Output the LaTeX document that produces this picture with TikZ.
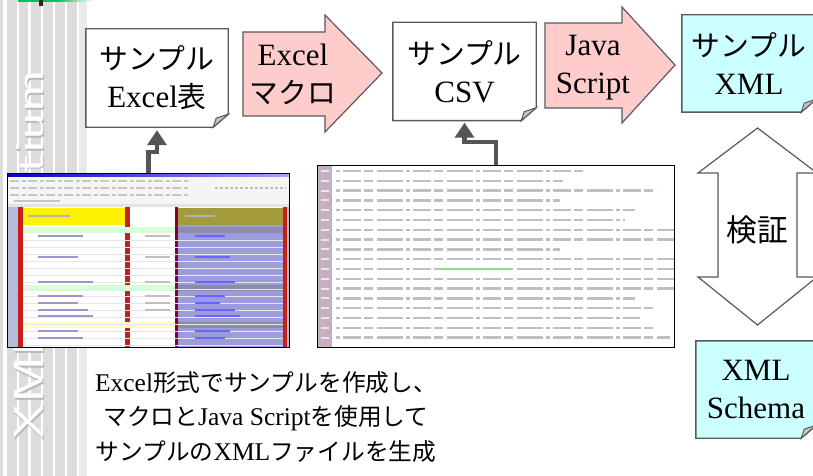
\documentclass[tikz,border=0pt]{standalone}
\usepackage{fontspec}
\setmainfont{Liberation Serif}
\newfontfamily\jp[Scale=0.93]{Noto Sans CJK JP}
\usetikzlibrary{arrows.meta,backgrounds}
\definecolor{stripe}{HTML}{DCDCDC}
\definecolor{stripelt}{HTML}{E9E9E9}
\definecolor{edge}{HTML}{5A5A5A}
\definecolor{pinkfill}{HTML}{FFCCCC}
\definecolor{cyanfill}{HTML}{CCFFFF}
\definecolor{foldgray}{HTML}{C4C4C4}
\definecolor{connc}{HTML}{555555}
\definecolor{greenc}{HTML}{00C060}
\definecolor{olivec}{HTML}{A49C3C}
\definecolor{purplec}{HTML}{9C9CDC}
\definecolor{bluegray}{HTML}{B4BCDC}
\definecolor{exred}{HTML}{C81E1E}
\definecolor{mauve}{HTML}{C4B0C0}
\tikzset{
  boxtext/.style={font=\fontsize{31}{38}\selectfont, align=center, inner sep=0pt},
  docnode/.style={boxtext, minimum width=#1, minimum height=98pt},
  bottomtext/.style={font=\fontsize{25.5}{34.5}\selectfont, align=center, inner sep=0pt},
  conn/.style={draw=connc, line width=4.5pt, -{Triangle[width=19pt,length=15pt]}},
  docline/.style={draw=edge, line width=1.4pt, line join=miter},
  blockarrow/.style={draw=edge, line width=1.2pt, line join=miter},
  shot/.style={draw=black, line width=0.9pt, inner sep=0pt, anchor=north west},
  fauxtext/.style={draw=gray!50, line width=2.4pt},
}
\newcommand\foldbox[2]{%
  \begin{scope}[on background layer]
  \filldraw[docline, fill=#2] (#1.north west) -- (#1.north east) -- ([yshift=13pt]#1.south east) -- ([xshift=-15pt]#1.south east) -- (#1.south west) -- cycle;
  \filldraw[draw=edge, line width=1pt, fill=foldgray] ([yshift=13pt]#1.south east) -- ([xshift=-15pt]#1.south east) -- ([xshift=-12pt,yshift=9pt]#1.south east) -- cycle;
  \end{scope}}
\begin{document}
\begin{tikzpicture}[x=1pt,y=-1pt]
\useasboundingbox (0,0) rectangle (813,476);
% ---------- left striped strip with watermark ----------
\begin{scope}[on background layer]
\fill[white] (0,0) rectangle (813,476);
\foreach \a/\b in {0/3.3, 7.3/16.7, 19.3/28.3, 31/40.7, 43.3/52.7, 55/65, 67.3/76.7}
  \fill[stripe] (\a,0) rectangle (\b,476);
\fill[stripelt] (79.3,0) rectangle (87.3,476);
\node[rotate=90, anchor=base west, inner sep=0pt, text=gray!55, font=\sffamily\fontsize{42}{42}\selectfont] (wmshadow) at (44.5,441.5) {\scalebox{1.37}[1]{XMLConsortium}};
\node[rotate=90, anchor=base west, inner sep=0pt, text=white, font=\sffamily\fontsize{42}{42}\selectfont] (wm) at (43,440) {\scalebox{1.37}[1]{XMLConsortium}};
\fill[greenc] (18,0) rectangle (57,1.6);
\shade[left color=greenc, right color=white] (57,0) rectangle (93,1.6);
\fill[black!85] (39,0) rectangle (43,6);
\end{scope}

% ---------- top row of documents and block arrows ----------
\node[docnode=142pt] (b1) at (157,78) {{\jp サンプル}\\Excel{\jp 表}};
\foldbox{b1}{white}

\node[boxtext] (a1) at (293,74) {Excel\\{\jp マクロ}};
\begin{scope}[on background layer]
\filldraw[blockarrow, fill=pinkfill] (243,32) -- (325,32) -- (325,15) -- (382,73) -- (325,132) -- (325,116) -- (243,116) -- cycle;
\end{scope}

\node[docnode=143pt] (b2) at (464.5,71.5) {{\jp サンプル}\\CSV};
\foldbox{b2}{white}

\node[boxtext] (a2) at (593,68) {Java\\Script};
\begin{scope}[on background layer]
\filldraw[blockarrow, fill=pinkfill] (545,23) -- (622,23) -- (622,7) -- (675,65) -- (622,123) -- (622,108) -- (545,108) -- cycle;
\end{scope}

\node[docnode=134pt, minimum height=97pt] (b3) at (749,63.5) {{\jp サンプル}\\XML};
\foldbox{b3}{cyanfill}

% ---------- validation double arrow ----------
\node[boxtext, font=\fontsize{33}{38}\selectfont] (v) at (757.5,230) {{\jp 検証}};
\begin{scope}[on background layer]
\filldraw[blockarrow, fill=white] (757.5,128) -- (817,173) -- (797,173) -- (797,277) -- (817,277) -- (757.5,325) -- (698,277) -- (718,277) -- (718,173) -- (698,173) -- cycle;
\end{scope}

\node[docnode=120pt, minimum height=97pt] (b4) at (756,389.5) {XML\\Schema};
\foldbox{b4}{cyanfill}

% ---------- Excel screenshot ----------
\fill[white] (7,173) rectangle (289,347);
\shade[left color=blue!75!black, right color=blue!35] (7,173) rectangle (289,177);
\fill[gray!8] (7,177) rectangle (289,205);
\foreach \yy in {181,188,195}
  \draw[gray!45, line width=1.6pt, dash pattern=on 9pt off 3pt on 4pt off 2pt] (10,\yy) -- (190,\yy);
\draw[gray!50, line width=1.8pt, dash pattern=on 3pt off 2pt] (215,188) -- (286,188);
\draw[gray!45, line width=1.6pt] (14,201) -- (60,201);
\fill[gray!22] (7,204) rectangle (289,207);
\fill[bluegray] (7,207) rectangle (18,347);
\fill[exred] (18,207) rectangle (23,347);
\fill[yellow] (23,208) rectangle (125,225);
\fill[exred] (125,207) rectangle (130,347);
\fill[white] (130,207) rectangle (175,347);
\fill[purple!70!black] (175,207) rectangle (178,347);
\fill[olivec] (178,208) rectangle (283,225);
\fill[purplec] (178,225) rectangle (283,347);
\fill[exred] (283,207) rectangle (287,347);
\fill[bluegray] (287,207) rectangle (289,347);
\fill[green!15] (23,227) rectangle (175,233);
\fill[green!15] (23,285) rectangle (175,291);
\fill[yellow!25] (23,322) rectangle (175,328);
\fill[gray!55!purplec] (178,227) rectangle (283,233);
\fill[gray!55!purplec] (178,285) rectangle (283,291);
\fill[gray!55!purplec] (178,322) rectangle (283,328);
\foreach \yy in {240,247,...,345}
  \draw[gray!18, line width=0.4pt] (23,\yy) -- (283,\yy);
\draw[gray!60, line width=1.4pt] (28,216) -- (70,216);
\draw[gray!60, line width=1.4pt] (185,216) -- (215,216);
\foreach \yy/\l in {236/45, 257/40, 282/55, 296/45, 303/40, 310/50, 316/55, 331/40, 338/45}
  \draw[blue!35!gray!60, line width=1.3pt] (38,\yy) -- ++(\l,0);
\foreach \yy/\l in {236/30, 257/35, 282/40, 296/30, 303/25, 310/40, 316/45, 331/35, 338/30}
  \draw[blue!60, line width=1.3pt] (195,\yy) -- ++(\l,0);
\foreach \yy in {236, 257, 282, 296, 303, 310}
  \draw[gray!50, line width=1.3pt] (145,\yy) -- ++(25,0);
\node[shot, minimum width=282pt, minimum height=174pt] (s1) at (7,173) {};

% ---------- CSV screenshot ----------
\fill[white] (317,165) rectangle (674,347);
\fill[mauve] (317,165) rectangle (332,347);
\foreach \yy/\e in {171/583, 180.8/563, 190.6/657, 200.4/560, 210.2/635, 220/625, 229.8/674, 239.6/674, 249.4/560, 259.2/674, 269/674, 278.8/674, 288.6/674, 298.4/635, 308.2/655, 318/640, 327.8/655, 337.6/670}
  \draw[fauxtext, dash pattern=on 4pt off 3pt on 18pt off 3pt on 9pt off 4pt on 26pt off 3pt] (336,\yy) -- (\e,\yy);
\draw[green!55!gray!60, line width=2.2pt] (440,269) -- (512,269);
\foreach \yy in {171,180.8,...,340}
  \draw[white!70!mauve, line width=2pt] (321,\yy) -- (329,\yy);
\node[shot, minimum width=357pt, minimum height=182pt] (s2) at (317,165) {};

% ---------- elbow connectors ----------
\draw[conn, shorten >=3pt] (s1.north) -- ++(0,-21) -| (b1.south);
\draw[conn, shorten >=2pt] (s2.north) -- ++(0,-23) -| (b2.south);

% ---------- caption ----------
\node[bottomtext] (cap) at (266,417) {Excel{\jp 形式でサンプルを作成し、}\\{\jp マクロと}Java Script{\jp を使用して}\\{\jp サンプルの}XML{\jp ファイルを生成}};
\end{tikzpicture}
\end{document}
